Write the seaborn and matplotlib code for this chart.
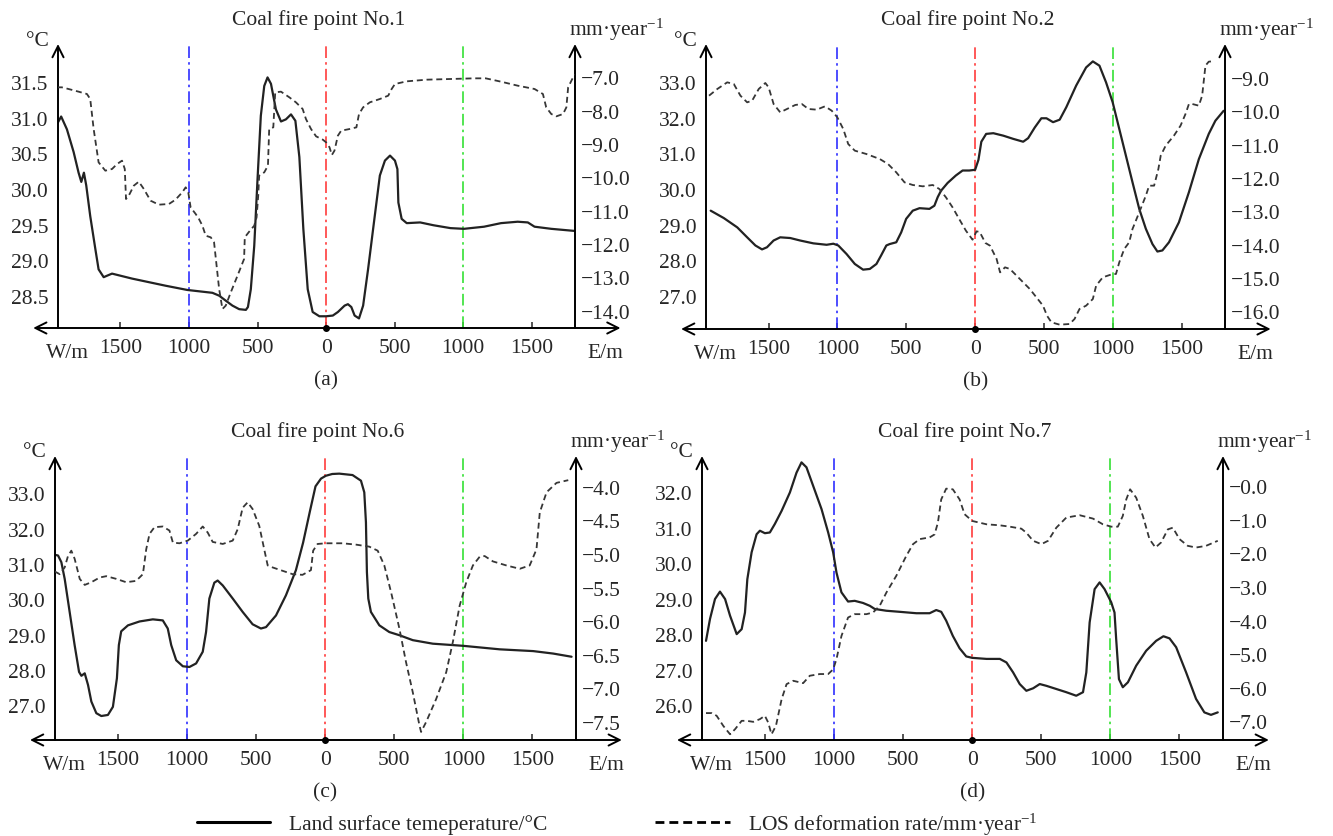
import matplotlib
matplotlib.use('Agg')
import matplotlib.pyplot as plt
from matplotlib.lines import Line2D
import seaborn as sns

sns.set_style('white')
plt.rcParams['font.family'] = ['Liberation Serif', 'DejaVu Serif']
plt.rcParams['mathtext.fontset'] = 'custom'
plt.rcParams['mathtext.rm'] = 'Liberation Serif'
plt.rcParams['mathtext.it'] = 'Liberation Serif:italic'
plt.rcParams['font.size'] = 15.5
FS = 15.5

# distance along the profile in metres, west negative / east positive
# ---- coal fire point No.1 ----
a_temp_x = [-1963, -1932, -1890, -1841, -1805, -1785, -1766, -1749, -1720, -1683, -1659, -1622, -1598, -1561,
            -1415, -1171, -1012, -829, -780, -732, -683, -634, -585, -570, -549, -524, -500, -476, -451, -427,
            -402, -366, -329, -293, -256, -224, -195, -166, -134, -98, -49, 0, 49, 86, 135, 159, 184, 208, 240,
            270, 306, 343, 392, 429, 466, 502, 520, 527, 551, 588, 686, 784, 907, 1005, 1152, 1275, 1397, 1471,
            1520, 1642, 1815]
a_temp = [30.91, 31.02, 30.84, 30.52, 30.23, 30.10, 30.23, 30.05, 29.62, 29.16, 28.87, 28.76, 28.78, 28.81,
          28.74, 28.64, 28.58, 28.54, 28.50, 28.43, 28.36, 28.31, 28.30, 28.34, 28.59, 29.20, 30.14, 31.03, 31.45,
          31.57, 31.48, 31.12, 30.95, 30.98, 31.05, 30.96, 30.45, 29.44, 28.59, 28.27, 28.21, 28.21, 28.22, 28.27,
          28.36, 28.38, 28.34, 28.22, 28.18, 28.36, 28.87, 29.44, 30.19, 30.40, 30.47, 30.40, 30.28, 29.81, 29.58,
          29.52, 29.53, 29.49, 29.45, 29.44, 29.47, 29.52, 29.54, 29.53, 29.47, 29.44, 29.41]
a_los_x = [-1963, -1927, -1878, -1805, -1744, -1720, -1695, -1659, -1610, -1561, -1524, -1488, -1468, -1459,
           -1439, -1402, -1366, -1329, -1280, -1220, -1146, -1098, -1049, -1024, -1005, -988, -951, -927, -902,
           -878, -841, -817, -780, -756, -732, -695, -646, -598, -593, -561, -524, -507, -495, -488, -451, -424,
           -415, -385, -371, -329, -268, -220, -171, -147, -110, -73, -24, 0, 25, 42, 61, 86, 110, 172, 221, 240,
           270, 319, 392, 453, 478, 502, 588, 735, 907, 1078, 1164, 1275, 1397, 1520, 1581, 1605, 1642, 1679,
           1728, 1752, 1765, 1801, 1815]
a_los = [-7.30, -7.30, -7.35, -7.43, -7.50, -7.65, -8.55, -9.55, -9.80, -9.75, -9.60, -9.50, -9.75, -10.65,
         -10.55, -10.25, -10.13, -10.35, -10.70, -10.82, -10.80, -10.67, -10.45, -10.30, -10.45, -10.90, -11.10,
         -11.25, -11.45, -11.75, -11.80, -11.95, -13.35, -13.95, -13.85, -13.45, -12.95, -12.45, -11.80, -11.63,
         -11.45, -11.20, -10.55, -9.95, -9.85, -9.65, -8.55, -8.50, -7.45, -7.43, -7.60, -7.75, -7.95, -8.25,
         -8.55, -8.77, -8.87, -8.95, -9.10, -9.33, -9.20, -8.75, -8.60, -8.55, -8.50, -8.10, -7.90, -7.75, -7.65,
         -7.55, -7.35, -7.20, -7.12, -7.07, -7.05, -7.03, -7.03, -7.13, -7.25, -7.35, -7.50, -7.90, -8.10,
         -8.17, -8.10, -7.90, -7.30, -7.00, -6.92]

# ---- coal fire point No.2 ----
b_temp_x = [-1921, -1825, -1728, -1656, -1596, -1548, -1512, -1464, -1416, -1343, -1271, -1175, -1079, -1030,
            -994, -934, -874, -814, -765, -717, -683, -645, -621, -573, -537, -501, -453, -404, -332, -296, -272,
            -248, -200, -140, -91, -43, 0, 24, 45, 80, 132, 205, 277, 349, 385, 433, 481, 518, 566, 614, 662, 734,
            806, 855, 903, 951, 999, 1047, 1095, 1143, 1192, 1240, 1288, 1324, 1360, 1408, 1480, 1553, 1625, 1697,
            1745, 1805]
b_temp = [29.39, 29.18, 28.92, 28.64, 28.41, 28.30, 28.36, 28.55, 28.64, 28.62, 28.55, 28.47, 28.43, 28.46,
          28.41, 28.17, 27.89, 27.73, 27.75, 27.89, 28.13, 28.41, 28.45, 28.50, 28.78, 29.16, 29.39, 29.46, 29.44,
          29.53, 29.77, 29.95, 30.17, 30.38, 30.52, 30.52, 30.54, 30.82, 31.33, 31.55, 31.57, 31.50, 31.41, 31.33,
          31.43, 31.73, 31.99, 31.99, 31.88, 31.95, 32.30, 32.91, 33.42, 33.59, 33.47, 33.00, 32.44, 31.69, 30.94,
          30.19, 29.44, 28.88, 28.45, 28.24, 28.27, 28.50, 29.06, 29.91, 30.84, 31.55, 31.92, 32.20]
b_los_x = [-1933, -1873, -1801, -1753, -1705, -1656, -1620, -1572, -1524, -1500, -1464, -1416, -1367, -1307,
           -1259, -1211, -1151, -1091, -1042, -1001, -958, -922, -874, -790, -693, -633, -573, -513, -453, -380,
           -308, -260, -212, -164, -116, -67, -19, 10, 33, 75, 108, 156, 181, 217, 253, 301, 349, 397, 445, 493,
           522, 554, 614, 686, 722, 758, 806, 855, 879, 927, 999, 1023, 1047, 1083, 1119, 1143, 1192, 1240, 1264,
           1300, 1331, 1348, 1384, 1444, 1492, 1528, 1553, 1577, 1625, 1649, 1673, 1697, 1721]
b_los = [-9.53, -9.33, -9.13, -9.18, -9.53, -9.73, -9.68, -9.33, -9.15, -9.28, -9.78, -10.03, -9.93, -9.81,
         -9.78, -9.93, -9.95, -9.85, -9.98, -10.18, -10.53, -10.98, -11.18, -11.28, -11.43, -11.58, -11.83,
         -12.13, -12.21, -12.25, -12.21, -12.33, -12.58, -12.88, -13.23, -13.58, -13.85, -13.60, -13.62, -13.95,
         -14.03, -14.43, -14.83, -14.68, -14.73, -14.93, -15.13, -15.33, -15.58, -15.83, -16.13, -16.33, -16.40,
         -16.38, -16.23, -15.93, -15.83, -15.63, -15.23, -14.98, -14.88, -14.88, -14.53, -14.13, -13.93, -13.53,
         -13.03, -12.53, -12.23, -12.23, -11.73, -11.33, -11.03, -10.73, -10.43, -10.08, -9.78, -9.78, -9.83,
         -9.53, -8.63, -8.51, -8.50]

# ---- coal fire point No.6 ----
c_temp_x = [-1957, -1933, -1909, -1885, -1849, -1813, -1781, -1764, -1740, -1716, -1692, -1656, -1620, -1572,
            -1536, -1507, -1493, -1476, -1427, -1343, -1247, -1175, -1139, -1114, -1078, -1030, -982, -934, -886,
            -862, -838, -802, -778, -741, -669, -597, -525, -465, -428, -356, -284, -212, -160, -110, -70, -30, 5,
            51, 102, 198, 259, 283, 295, 302, 312, 331, 392, 464, 537, 634, 779, 997, 1263, 1505, 1650, 1783]
c_temp = [31.26, 31.24, 31.05, 30.58, 29.64, 28.70, 27.94, 27.83, 27.90, 27.57, 27.10, 26.77, 26.69, 26.72,
          26.95, 27.76, 28.70, 29.09, 29.26, 29.37, 29.43, 29.40, 29.17, 28.70, 28.27, 28.10, 28.08, 28.18, 28.51,
          29.07, 30.02, 30.47, 30.53, 30.39, 30.02, 29.64, 29.29, 29.17, 29.21, 29.54, 30.11, 30.82, 31.60, 32.50,
          33.20, 33.42, 33.50, 33.55, 33.56, 33.52, 33.36, 33.03, 32.18, 30.77, 30.02, 29.64, 29.26, 29.07, 28.98,
          28.84, 28.74, 28.68, 28.58, 28.53, 28.46, 28.37]
c_los_x = [-1957, -1921, -1885, -1861, -1837, -1813, -1776, -1740, -1692, -1632, -1584, -1512, -1440, -1368,
           -1319, -1295, -1271, -1235, -1175, -1127, -1102, -1054, -994, -934, -886, -850, -814, -741, -669, -633,
           -597, -561, -525, -477, -441, -416, -380, -308, -236, -164, -103, -87, -55, 5, 126, 223, 319, 380, 428,
           477, 537, 585, 634, 682, 694, 731, 803, 876, 924, 973, 1021, 1069, 1118, 1154, 1214, 1311, 1408, 1480,
           1529, 1553, 1602, 1674, 1759]
c_los = [-5.26, -5.30, -5.20, -5.03, -4.95, -5.07, -5.37, -5.46, -5.42, -5.35, -5.33, -5.37, -5.42, -5.40,
         -5.30, -4.93, -4.70, -4.60, -4.59, -4.65, -4.83, -4.84, -4.80, -4.70, -4.59, -4.68, -4.82, -4.85, -4.80,
         -4.63, -4.31, -4.23, -4.33, -4.58, -4.93, -5.17, -5.20, -5.25, -5.30, -5.31, -5.24, -4.95, -4.85, -4.84,
         -4.84, -4.86, -4.89, -4.95, -5.17, -5.57, -6.11, -6.61, -7.06, -7.55, -7.65, -7.50, -7.16, -6.76, -6.31,
         -5.77, -5.42, -5.17, -5.04, -5.03, -5.11, -5.17, -5.22, -5.17, -4.93, -4.38, -4.08, -3.94, -3.90]

# ---- coal fire point No.7 ----
d_temp_x = [-1926, -1897, -1861, -1825, -1788, -1752, -1704, -1668, -1644, -1627, -1596, -1560, -1536, -1500,
            -1464, -1428, -1379, -1319, -1271, -1235, -1199, -1151, -1090, -1042, -1006, -982, -946, -898, -850,
            -790, -741, -705, -621, -525, -404, -308, -260, -224, -188, -140, -91, -43, 0, 104, 200, 248, 296, 344,
            392, 441, 489, 537, 609, 681, 753, 802, 826, 850, 886, 922, 958, 1006, 1030, 1042, 1062, 1090, 1127,
            1187, 1259, 1331, 1384, 1428, 1476, 1548, 1620, 1680, 1728, 1777]
d_temp = [27.81, 28.43, 28.99, 29.20, 28.99, 28.52, 28.00, 28.14, 28.61, 29.55, 30.31, 30.82, 30.92, 30.85,
          30.87, 31.11, 31.48, 32.00, 32.56, 32.85, 32.71, 32.19, 31.53, 30.87, 30.31, 29.74, 29.18, 28.92, 28.94,
          28.88, 28.80, 28.71, 28.66, 28.63, 28.59, 28.59, 28.68, 28.63, 28.38, 27.95, 27.60, 27.37, 27.33, 27.30,
          27.30, 27.20, 26.92, 26.59, 26.40, 26.47, 26.59, 26.54, 26.45, 26.36, 26.26, 26.36, 26.92, 28.33, 29.27,
          29.46, 29.27, 28.90, 28.61, 27.86, 26.73, 26.50, 26.64, 27.11, 27.53, 27.81, 27.94, 27.88, 27.63, 26.92,
          26.17, 25.79, 25.72, 25.79]
d_los_x = [-1926, -1885, -1849, -1801, -1752, -1716, -1668, -1632, -1584, -1536, -1500, -1476, -1452, -1420,
           -1379, -1343, -1295, -1223, -1175, -1102, -1042, -1006, -982, -946, -898, -850, -765, -717, -669, -621,
           -549, -477, -428, -380, -308, -272, -248, -224, -188, -140, -91, -55, 0, 104, 200, 272, 356, 392, 441,
           501, 549, 609, 681, 778, 874, 946, 1006, 1054, 1090, 1115, 1143, 1187, 1235, 1283, 1326, 1367, 1416,
           1452, 1500, 1560, 1620, 1692, 1777]
d_los = [-6.75, -6.75, -6.83, -7.13, -7.38, -7.23, -6.98, -6.98, -7.01, -6.93, -6.83, -7.03, -7.38, -7.13,
         -6.34, -5.89, -5.79, -5.86, -5.64, -5.59, -5.59, -5.45, -5.15, -4.46, -3.91, -3.81, -3.81, -3.76, -3.56,
         -3.17, -2.67, -2.08, -1.73, -1.58, -1.53, -1.44, -1.09, -0.40, -0.08, -0.10, -0.40, -0.84, -1.04, -1.14,
         -1.17, -1.21, -1.27, -1.39, -1.63, -1.73, -1.63, -1.24, -0.94, -0.87, -0.97, -1.14, -1.21, -1.21, -0.89,
         -0.40, -0.10, -0.35, -0.89, -1.58, -1.83, -1.68, -1.29, -1.24, -1.58, -1.78, -1.83, -1.78, -1.63]

# axis ticks and labels
x_ticks = [-1500, -1000, -500, 0, 500, 1000, 1500]
x_labels = ['1500', '1000', '500', '0', '500', '1000', '1500']
a_temp_ticks = [28.5, 29.0, 29.5, 30.0, 30.5, 31.0, 31.5]
a_los_ticks = [-14, -13, -12, -11, -10, -9, -8, -7]
b_temp_ticks = [27, 28, 29, 30, 31, 32, 33]
b_los_ticks = [-16, -15, -14, -13, -12, -11, -10, -9]
c_temp_ticks = [27, 28, 29, 30, 31, 32, 33]
c_los_ticks = [-7.5, -7.0, -6.5, -6.0, -5.5, -5.0, -4.5, -4.0]
d_temp_ticks = [26, 27, 28, 29, 30, 31, 32]
d_los_ticks = [-7, -6, -5, -4, -3, -2, -1, 0]

ref_lines = [-1000, 0, 1000]
ref_colors = ['#2f2fff', '#ff3c3c', '#35e035']
titles = ['Coal fire point No.1', 'Coal fire point No.2', 'Coal fire point No.6', 'Coal fire point No.7']
tags = ['(a)', '(b)', '(c)', '(d)']
legend_labels = ['Land surface temeperature/°C', 'LOS deformation rate/mm·year$^{-1}$']


def fmt(v):
    return ('\u2212%.1f' % abs(v)) if v <= 0 else '%.1f' % v


W, H = 1333, 837
fig = plt.figure(figsize=(W / 100, H / 100), dpi=100)


def px_rect(l, r, t, b):
    return [l / W, 1 - b / H, (r - l) / W, (b - t) / H]


def draw_panel(rect, tx, ty, dx, dy, tlim, dlim, tticks, dticks, title, tag):
    ax = fig.add_axes(rect)
    ax2 = ax.twinx()
    for xv, c in zip(ref_lines, ref_colors):
        ax.axvline(xv, color=c, lw=1.2, ls=(0, (7, 2.5, 1.5, 2.5)), zorder=1)
    sns.lineplot(x=tx, y=ty, ax=ax, color='#222222', linewidth=1.6, estimator=None, sort=False, zorder=3)
    sns.lineplot(x=dx, y=dy, ax=ax2, color='#363636', linewidth=1.3, linestyle=(0, (3.3, 2.1)),
                 estimator=None, sort=False)
    ax.set_xlim(-1955, 1815)
    ax.set_ylim(*tlim)
    ax2.set_ylim(*dlim)
    for a in (ax, ax2):
        for s in a.spines.values():
            s.set_visible(False)
        a.set_xlabel('')
        a.set_ylabel('')
        a.patch.set_visible(False)
    ax.set_xticks(x_ticks, labels=x_labels)
    ax.tick_params(axis='x', bottom=True, direction='in', length=4, width=1.1, pad=7, labelsize=FS)
    ax.set_yticks(tticks, labels=['%.1f' % v for v in tticks])
    ax.tick_params(axis='y', left=True, length=0, pad=7, labelsize=FS)
    ax2.set_yticks(dticks, labels=[fmt(v) for v in dticks])
    ax2.tick_params(axis='y', right=True, length=0, pad=4, labelsize=FS)

    arrow = dict(arrowstyle='->', lw=1.4, color='black', mutation_scale=20, shrinkA=0, shrinkB=0)
    ax.annotate('', xy=(0, 1), xytext=(0, 0), xycoords='axes fraction', arrowprops=arrow,
                annotation_clip=False)
    ax.annotate('', xy=(1, 1), xytext=(1, 0), xycoords='axes fraction', arrowprops=arrow,
                annotation_clip=False)
    ax.annotate('', xy=(1.088, 0), xytext=(-0.048, 0), xycoords='axes fraction',
                arrowprops=dict(arrow, arrowstyle='<->'), annotation_clip=False)
    ax.plot([0], [0], 'o', ms=4, color='black', transform=ax.get_xaxis_transform(), clip_on=False, zorder=5)

    ax.annotate(title, xy=(0.5, 1), xycoords='axes fraction', xytext=(2, 25), textcoords='offset pixels',
                ha='center', va='center', fontsize=FS)
    ax.annotate('°C', xy=(0, 1), xycoords='axes fraction', xytext=(-9, 4), textcoords='offset pixels',
                ha='right', va='center', fontsize=FS)
    ax.annotate('mm·year$^{-1}$', xy=(1, 1), xycoords='axes fraction', xytext=(-6, 15),
                textcoords='offset pixels', ha='left', va='center', fontsize=FS)
    ax.annotate('W/m', xy=(0, 0), xycoords='axes fraction', xytext=(9, -25), textcoords='offset pixels',
                ha='center', va='center', fontsize=FS)
    ax.annotate('E/m', xy=(1, 0), xycoords='axes fraction', xytext=(30, -25), textcoords='offset pixels',
                ha='center', va='center', fontsize=FS)
    ax.annotate(tag, xy=(0, 0), xycoords=('data', 'axes fraction'), xytext=(0, -52),
                textcoords='offset pixels', ha='center', va='center', fontsize=FS)


draw_panel(px_rect(58, 575, 45, 329), a_temp_x, a_temp, a_los_x, a_los, (28.045, 32.04), (-14.52, -6.0),
           a_temp_ticks, a_los_ticks, titles[0], tags[0])
draw_panel(px_rect(706, 1225, 45, 330), b_temp_x, b_temp, b_los_x, b_los, (26.06, 34.08), (-16.53, -7.98),
           b_temp_ticks, b_los_ticks, titles[1], tags[1])
draw_panel(px_rect(55, 576, 457, 741), c_temp_x, c_temp, c_los_x, c_los, (26.01, 34.06), (-7.77, -3.54),
           c_temp_ticks, c_los_ticks, titles[2], tags[2])
draw_panel(px_rect(702, 1223, 457, 741), d_temp_x, d_temp, d_los_x, d_los, (25.01, 33.03), (-7.55, 0.89),
           d_temp_ticks, d_los_ticks, titles[3], tags[3])

solid_handle = Line2D([], [], color='black', lw=2.2)
dashed_handle = Line2D([], [], color='black', lw=2.0, ls=(0, (3.2, 1.8)))
fig.legend([solid_handle], legend_labels[:1], loc='center left', bbox_to_anchor=(197 / W, 1 - 825 / H),
           frameon=False, borderpad=0, borderaxespad=0, handlelength=73 / 21.5, handletextpad=0.9, fontsize=FS)
fig.legend([dashed_handle], legend_labels[1:], loc='center left', bbox_to_anchor=(655 / W, 1 - 825 / H),
           frameon=False, borderpad=0, borderaxespad=0, handlelength=75 / 21.5, handletextpad=0.85, fontsize=FS)

fig.savefig('out.png', dpi=100)
